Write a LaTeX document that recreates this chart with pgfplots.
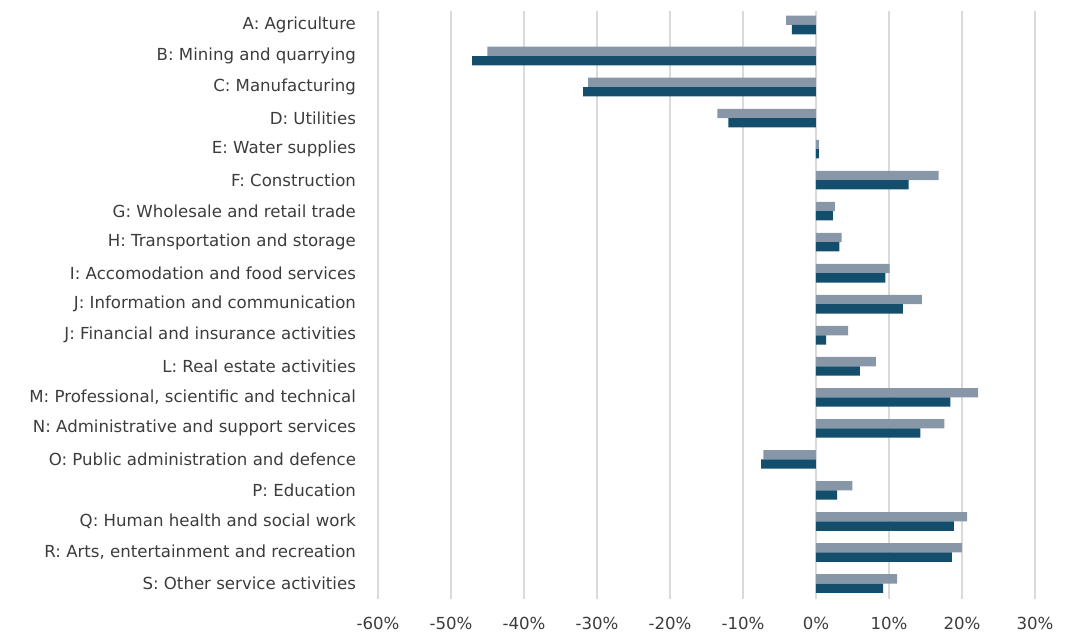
\documentclass[border=0pt]{standalone}
\usepackage{pgfplots}
\pgfplotsset{compat=1.18}
\usepackage{pgfplotstable}
\usepackage{fontspec}
\setmainfont{DejaVu Sans}

\definecolor{barlight}{HTML}{8797A8}
\definecolor{bardark}{HTML}{134F6C}
\definecolor{gridgrey}{HTML}{DADADA}
\definecolor{labelgrey}{HTML}{3C3C3C}

% change by sector, two periods (light = first, dark = second)
\pgfplotstableread{
idx grey dark
0  -4.1  -3.3
1  -45.0 -47.1
2  -31.2 -31.9
3  -13.5 -12.0
4  0.4   0.4
5  16.8  12.7
6  2.6   2.3
7  3.5   3.2
8  10.1  9.5
9  14.5  11.9
10 4.4   1.4
11 8.2   6.0
12 22.2  18.4
13 17.6  14.3
14 -7.2  -7.5
15 5.0   2.9
16 20.7  18.9
17 20.0  18.6
18 11.1  9.2
}\sectordata

\begin{document}
\begin{tikzpicture}
\begin{axis}[
    scale only axis,
    width=328.5pt, height=294pt,
    xmin=-60, xmax=30,
    ymin=-0.45, ymax=18.5,
    y dir=reverse,
    xtick={-60,-50,-40,-30,-20,-10,0,10,20,30},
    xticklabels={-60\%,-50\%,-40\%,-30\%,-20\%,-10\%,0\%,10\%,20\%,30\%},
    ytick={0,...,18},
    yticklabels={
        A: Agriculture,
        B: Mining and quarrying,
        C: Manufacturing,
        D: Utilities,
        E: Water supplies,
        F: Construction,
        G: Wholesale and retail trade,
        H: Transportation and storage,
        I: Accomodation and food services,
        J: Information and communication,
        J: Financial and insurance activities,
        L: Real estate activities,
        {M: Professional, scientific and technical},
        N: Administrative and support services,
        O: Public administration and defence,
        P: Education,
        Q: Human health and social work,
        {R: Arts, entertainment and recreation},
        S: Other service activities},
    xmajorgrids,
    major grid style={gridgrey, line width=0.8pt},
    axis line style={draw=none},
    major tick length=0pt,
    tick label style={font=\fontsize{8.3}{10}\selectfont, text=labelgrey},
    yticklabel style={xshift=-7.5pt},
    xticklabel style={yshift=-5.5pt},
    xbar,
    bar width=0.3,
]
\addplot[fill=barlight, draw=none, bar shift=-0.15] table[x=grey, y=idx]{\sectordata};
\addplot[fill=bardark, draw=none, bar shift=0.15] table[x=dark, y=idx]{\sectordata};
\end{axis}
% margins as in the reference
\path (current axis.south west) ++(-189pt,-18.25pt) coordinate (bbl);
\path (current axis.north east) ++(16.5pt,5.5pt) coordinate (bur);
\path (bbl) (bur);
\end{tikzpicture}
\end{document}
